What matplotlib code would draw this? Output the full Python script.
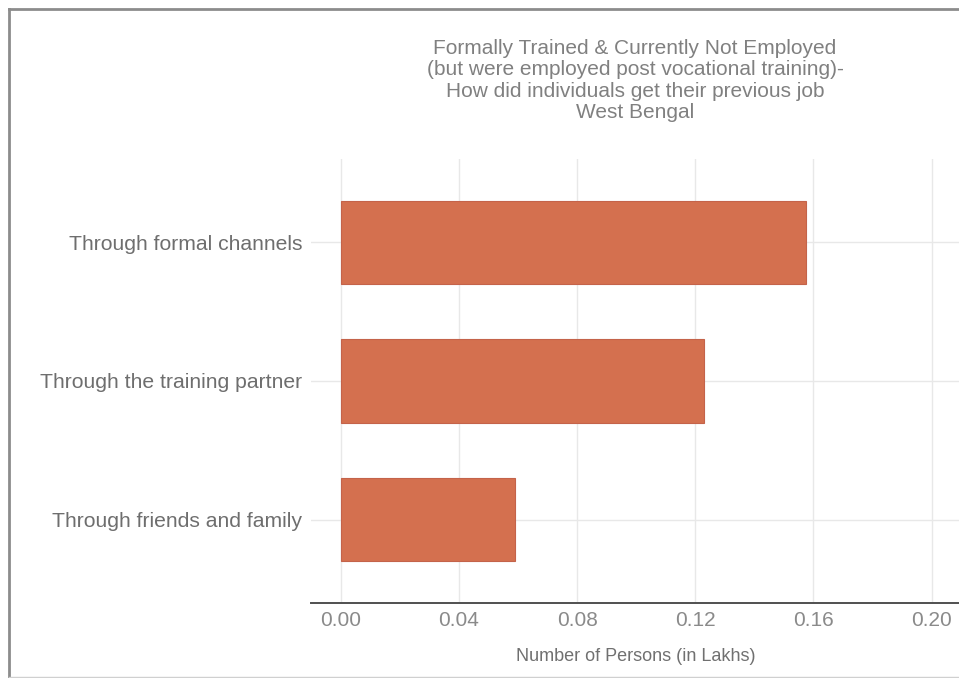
import matplotlib
matplotlib.use("Agg")
import matplotlib.pyplot as plt
from matplotlib.lines import Line2D

# ---- data ----
categories = ["Through friends and family", "Through the training partner", "Through formal channels"]
values = [0.059, 0.123, 0.1575]
xticks = [0.00, 0.04, 0.08, 0.12, 0.16, 0.20]
xtick_labels = ["0.00", "0.04", "0.08", "0.12", "0.16", "0.20"]
title_lines = [
    "Formally Trained & Currently Not Employed",
    "(but were employed post vocational training)-",
    "How did individuals get their previous job",
    "West Bengal",
]
xlabel = "Number of Persons (in Lakhs)"

plt.rcParams["font.family"] = ["Liberation Sans", "DejaVu Sans"]

W, H = 959, 678
fig = plt.figure(figsize=(W / 100, H / 100), dpi=100)
fig.patch.set_facecolor("white")

# axes placement (pixel based)
left_px, right_px = 311.2, 961.2
top_px, bottom_px = 159.2, 602.7
ax = fig.add_axes([left_px / W, 1 - bottom_px / H, (right_px - left_px) / W, (bottom_px - top_px) / H])
ax.set_facecolor("white")

ypos = list(range(len(categories)))
ax.barh(ypos, values, height=0.6, color="#D4704F", edgecolor="#C4634A", linewidth=0.8, zorder=3)

ax.set_xlim(-0.01, 0.21)
ax.set_ylim(-0.6, len(categories) - 0.4)
ax.set_xticks(xticks)
ax.set_xticklabels(xtick_labels)
ax.set_yticks(ypos)
ax.set_yticklabels(categories)

ax.grid(True, axis="both", color="#E8E8E8", linewidth=1.0, zorder=0)
for s in ["top", "right", "left"]:
    ax.spines[s].set_visible(False)
ax.spines["bottom"].set_color("#505050")
ax.spines["bottom"].set_linewidth(1.4)

ax.tick_params(axis="x", length=0, pad=6, labelsize=15, labelcolor="#8A8A8A")
ax.tick_params(axis="y", length=0, pad=6.5, labelsize=15.2, labelcolor="#6E6E6E")

ax.set_xlabel(xlabel, fontsize=13, color="#707070", labelpad=13)

# title, one line per text (baselines in pixels from top)
title_top_baseline = 54.0
title_step = 21.3
for i, line in enumerate(title_lines):
    yb = title_top_baseline + i * title_step
    fig.text(635 / W, 1 - yb / H, line, ha="center", va="baseline",
             fontsize=15, color="#808080")

# outer frame
fig.add_artist(Line2D([9 / W, 9 / W], [1 - 9 / H, 1 / H], transform=fig.transFigure, color="#8C8C8C", linewidth=2))
fig.add_artist(Line2D([9 / W, 1], [1 - 9 / H, 1 - 9 / H], transform=fig.transFigure, color="#8C8C8C", linewidth=2))
fig.add_artist(Line2D([9 / W, 1], [1.2 / H, 1.2 / H], transform=fig.transFigure, color="#D0D0D0", linewidth=1))

fig.savefig("out.png", dpi=100, facecolor="white")
